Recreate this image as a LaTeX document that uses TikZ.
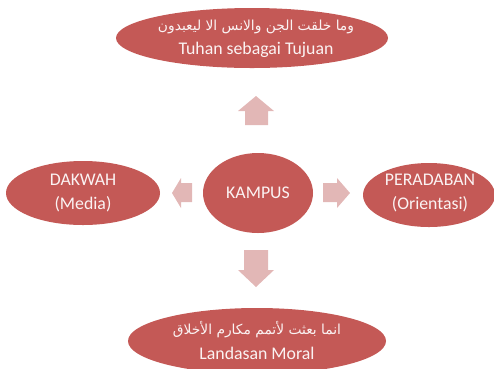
\documentclass[tikz,border=0pt]{standalone}
\usepackage{fontspec}
\setmainfont{Carlito}
\newfontfamily\arabicfont[Script=Arabic]{DejaVu Sans}
\TeXXeTstate=1
\definecolor{ellred}{HTML}{C45956}
\definecolor{arrpink}{HTML}{E2B7B6}
\definecolor{txtw}{HTML}{FBF3F3}
\begin{document}
\begin{tikzpicture}[x=1pt,y=-1pt,
  lbl/.style={text=txtw, inner sep=0pt, align=center, font=\fontsize{17.8}{24}\selectfont},
  arlbl/.style={text=txtw, inner sep=0pt, font=\arabicfont\fontsize{13.8}{16}\selectfont},
  blockarrow/.style={fill=arrpink}]
\useasboundingbox (0,0) rectangle (494,368);
\fill[ellred] (252,38) ellipse [x radius=136, y radius=30];
\node[arlbl] (topar) at (256,27) {\beginR وما خلقت الجن والانس الا ليعبدون\endR};
\node[lbl] (top) at (256,50) {Tuhan sebagai Tujuan};
\fill[ellred] (257,341) ellipse [x radius=129, y radius=33];
\node[arlbl] (botar) at (257,330) {\beginR انما بعثت لأتمم مكارم الأخلاق\endR};
\node[lbl] (bot) at (257,353) {Landasan Moral};
\fill[ellred] (83,193) ellipse [x radius=77, y radius=32];
\node[lbl] (dakwah) at (83,193) {DAKWAH\\(Media)};
\fill[ellred] (258,193) ellipse [x radius=55, y radius=40];
\node[lbl] (kampus) at (258,193) {KAMPUS};
\fill[ellred] (429,195) ellipse [x radius=66, y radius=32];
\node[lbl] (peradaban) at (430,193) {PERADABAN\\(Orientasi)};
% block arrows
\coordinate (up) at (256,96);
\fill[blockarrow] (up) -- ++(18,15) -- ++(-6,0) -- ++(0,14) -- ++(-23,0) -- ++(0,-14) -- ++(-7,0) -- cycle;
\coordinate (down) at (256,287);
\fill[blockarrow] (down) -- ++(18,-17) -- ++(-6,0) -- ++(0,-20) -- ++(-24,0) -- ++(0,20) -- ++(-6,0) -- cycle;
\coordinate (left) at (172,193);
\fill[blockarrow] (left) -- ++(9,-15) -- ++(0,5) -- ++(11,0) -- ++(0,19) -- ++(-11,0) -- ++(0,6) -- cycle;
\coordinate (right) at (350,193);
\fill[blockarrow] (right) -- ++(-13,-15) -- ++(0,5) -- ++(-14,0) -- ++(0,19) -- ++(14,0) -- ++(0,6) -- cycle;
\end{tikzpicture}
\end{document}
